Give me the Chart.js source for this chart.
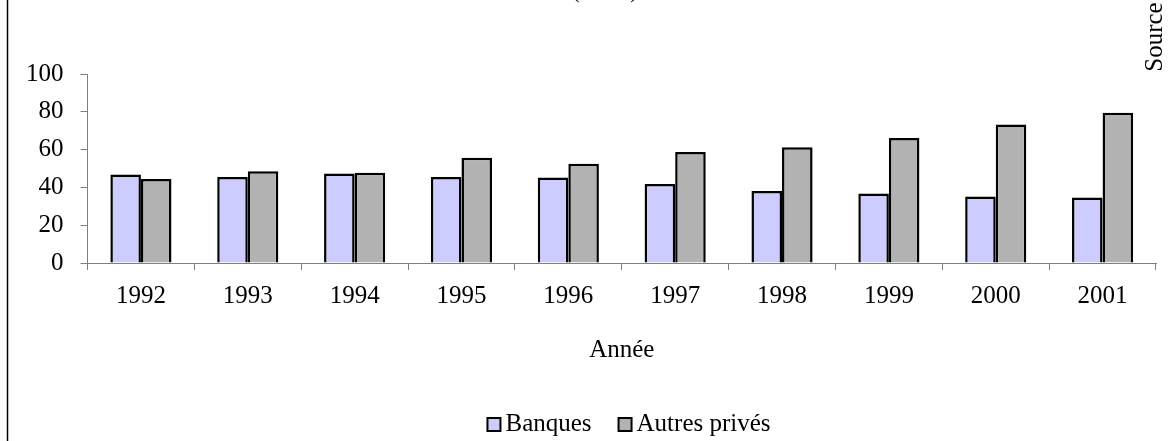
<!DOCTYPE html>
<html>
<head>
<meta charset="utf-8">
<script src="https://cdn.jsdelivr.net/npm/chart.js@4/dist/chart.umd.min.js"></script>
<style>
  html, body { margin: 0; padding: 0; background: #fff; }
  #box { width: 1174px; height: 441px; }
</style>
</head>
<body>
<div id="box"><canvas id="graphique"></canvas></div>
<script>
document.addEventListener('DOMContentLoaded', function () {

    // --- DONNÉES ---
    const annees = ['1992', '1993', '1994', '1995', '1996', '1997', '1998', '1999', '2000', '2001'];
    const banques = [46.8, 45.5, 47.3, 45.5, 45.3, 41.8, 38.1, 36.8, 35.2, 34.7];
    const autresPrives = [44.5, 48.5, 47.7, 55.7, 52.5, 58.7, 61.3, 66.1, 73.3, 79.5];
    const titreAxeX = 'Année';
    const titreHaut = '(en %)';
    const texteSource = 'Source';

    const police = 'Liberation Serif, Times New Roman, serif';
    const taille = 25;

    // textes fixes autour du graphique, légende façon Excel, trait vertical à gauche
    const decor = {
        id: 'decor',
        afterDraw(chart) {
            const c = chart.ctx;
            c.save();
            c.strokeStyle = '#000';
            c.lineWidth = 1.5;
            c.beginPath();
            c.moveTo(7.5, 0);
            c.lineTo(7.5, chart.height);
            c.stroke();

            c.fillStyle = '#000';
            c.font = taille + 'px ' + police;
            c.textAlign = 'center';
            c.textBaseline = 'alphabetic';
            c.fillText(titreHaut, 605, -3);

            // légende : carré 13px, texte collé, 27px entre les éléments
            const sets = chart.data.datasets;
            const carre = 13, ecart = 5, entre = 27;
            let total = 0;
            sets.forEach((ds, i) => {
                total += carre + ecart + c.measureText(ds.label).width;
                if (i < sets.length - 1) total += entre;
            });
            let x = 629 - total / 2;
            c.textAlign = 'left';
            sets.forEach(ds => {
                c.fillStyle = ds.backgroundColor;
                c.fillRect(x, 418, carre, carre);
                c.lineWidth = 2;
                c.strokeStyle = '#000';
                c.strokeRect(x, 418, carre, carre);
                c.fillStyle = '#000';
                c.fillText(ds.label, x + carre + ecart, 431);
                x += carre + ecart + c.measureText(ds.label).width + entre;
            });

            c.translate(1155, 37);
            c.rotate(-Math.PI / 2);
            c.textAlign = 'center';
            c.textBaseline = 'middle';
            c.fillText(texteSource, 0, 0);
            c.restore();
        }
    };

    const ctx = document.getElementById('graphique').getContext('2d');

    new Chart(ctx, {
        type: 'bar',
        data: {
            labels: annees,
            datasets: [{
                label: 'Banques',
                data: banques,
                backgroundColor: '#CCCCFF',
                borderColor: '#000',
                borderWidth: 2.5,
                barPercentage: 1,
                categoryPercentage: 0.572
            }, {
                label: 'Autres privés',
                data: autresPrives,
                backgroundColor: '#B2B2B2',
                borderColor: '#000',
                borderWidth: 2.5,
                barPercentage: 1,
                categoryPercentage: 0.572
            }]
        },
        options: {
            responsive: true,
            maintainAspectRatio: false,
            animation: false,
            layout: {
                padding: { left: 9, right: 18, top: 74, bottom: 76 }
            },
            scales: {
                x: {
                    offset: true,
                    grid: {
                        offset: true,
                        drawOnChartArea: false,
                        drawTicks: true,
                        tickLength: 7,
                        color: '#808080'
                    },
                    border: { color: '#808080', width: 1 },
                    ticks: {
                        color: '#000',
                        padding: 11,
                        maxRotation: 0,
                        font: { family: police, size: taille }
                    },
                    title: {
                        display: true,
                        text: titreAxeX,
                        color: '#000',
                        font: { family: police, size: taille },
                        padding: { top: 13, bottom: 0 }
                    }
                },
                y: {
                    min: 0,
                    max: 100,
                    ticks: {
                        stepSize: 20,
                        color: '#000',
                        padding: 17,
                        font: { family: police, size: taille }
                    },
                    grid: {
                        drawOnChartArea: false,
                        drawTicks: true,
                        tickLength: 7,
                        color: '#808080'
                    },
                    border: { color: '#808080', width: 1 }
                }
            },
            plugins: {
                legend: { display: false },
                tooltip: { enabled: false }
            }
        },
        plugins: [decor]
    });
});
</script>
</body>
</html>
